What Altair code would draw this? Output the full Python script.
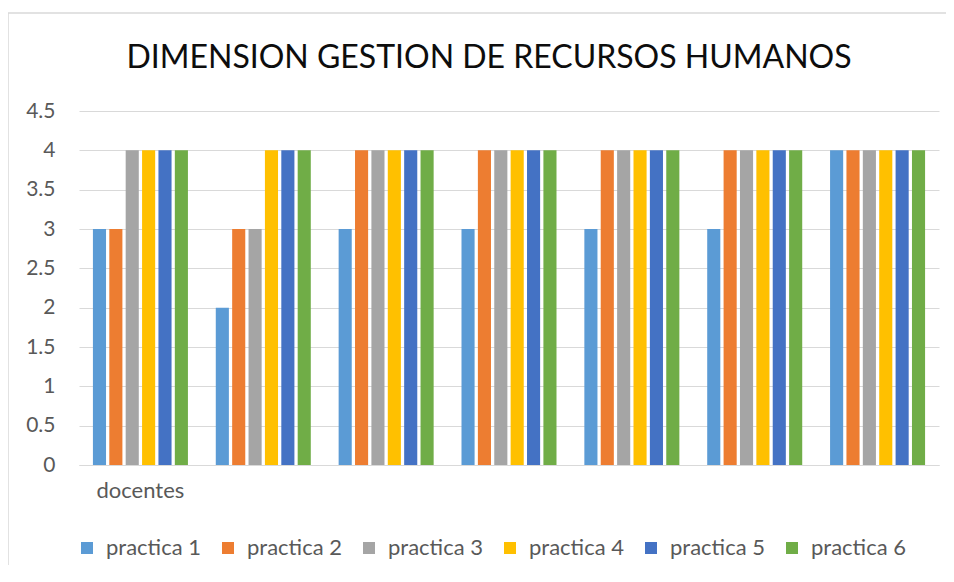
import altair as alt
import pandas as pd

groups = [1, 2, 3, 4, 5, 6, 7]
series = ["practica 1", "practica 2", "practica 3", "practica 4", "practica 5", "practica 6"]
p1 = [3, 2, 3, 3, 3, 3, 4]
p2 = [3, 3, 4, 4, 4, 4, 4]
p3 = [4, 3, 4, 4, 4, 4, 4]
p4 = [4, 4, 4, 4, 4, 4, 4]
p5 = [4, 4, 4, 4, 4, 4, 4]
p6 = [4, 4, 4, 4, 4, 4, 4]
colors = ["#5B9BD5", "#ED7D31", "#A5A5A5", "#FFC000", "#4472C4", "#70AD47"]

rows = []
for s, vals in zip(series, [p1, p2, p3, p4, p5, p6]):
    for g, v in zip(groups, vals):
        rows.append({"grupo": g, "serie": s, "valor": v})
df = pd.DataFrame(rows)

FONT = "Lato"
GRID = "#D9D9D9"
TXT = "#595959"

bars = alt.Chart(df).mark_bar().encode(
    x=alt.X("grupo:O",
            scale=alt.Scale(paddingInner=0.2, paddingOuter=0.1),
            axis=alt.Axis(title=None, labelAngle=0, ticks=False,
                          labelExpr="datum.value == 1 ? 'docentes' : ''",
                          domainColor=GRID, labelColor=TXT, labelFont=FONT,
                          labelFontSize=22, labelPadding=15)),
    xOffset=alt.XOffset("serie:N", sort=series,
                        scale=alt.Scale(paddingInner=0.2, paddingOuter=0.1)),
    y=alt.Y("valor:Q",
            scale=alt.Scale(domain=[0, 4.5], nice=False),
            axis=alt.Axis(title=None, values=[0, 0.5, 1, 1.5, 2, 2.5, 3, 3.5, 4, 4.5],
                          format="~g", ticks=False, domain=False,
                          gridColor=GRID, labelColor=TXT, labelFont=FONT,
                          labelFontSize=21, labelPadding=24)),
    color=alt.Color("serie:N", sort=series,
                    scale=alt.Scale(domain=series, range=colors),
                    legend=alt.Legend(title=None, orient="none", direction="horizontal",
                                      legendX=-3, legendY=426, columns=6,
                                      symbolType="square", symbolSize=144,
                                      symbolStrokeWidth=0, labelFont=FONT,
                                      labelFontSize=22, labelColor=TXT,
                                      labelOffset=8, columnPadding=16,
                                      gridAlign="all")),
)

frame = alt.Chart(pd.DataFrame({"a": [0]})).mark_rect(
    fillOpacity=0, stroke=GRID, strokeWidth=1.5
).encode(
    x=alt.value(-71), x2=alt.value(950), y=alt.value(-98), y2=alt.value(550)
)

chart = alt.layer(frame, bars).properties(
    width=860, height=354,
    padding={"left": 71, "top": 103, "right": 7, "bottom": 100},
    autosize=alt.AutoSizeParams(type="none"),
    title=alt.TitleParams("DIMENSION GESTION DE RECURSOS HUMANOS",
                          font=FONT, fontSize=32, fontWeight="normal",
                          color="#0d0d0d", anchor="middle", dx=-20, dy=88,
                          baseline="alphabetic", offset=0),
).configure_view(stroke=None)

chart.save("out.html", embed_options={"renderer": "svg", "actions": False})
